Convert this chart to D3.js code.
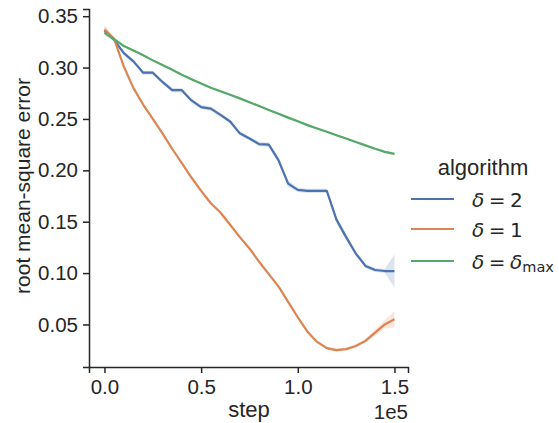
<!DOCTYPE html>
<html>
<head>
<meta charset="utf-8">
<script src="https://cdn.jsdelivr.net/npm/d3@7"></script>
<style>
  body { margin: 0; background: #fff; }
  svg { display: block; }
  .tick text { font-family: "Liberation Sans", Arial, sans-serif; font-size: 20.5px; fill: #262626; }
  .tick line { stroke: #262626; stroke-width: 1.5px; }
  .domain { stroke: #262626; stroke-width: 1.5px; }
</style>
</head>
<body>
<div id="chart"></div>
<script>
const FRAME_WIDTH = 559;
const FRAME_HEIGHT = 423;

// steps (every 5000 up to 150000)
const STEPS = d3.range(0, 150001, 5000);

// series names and colors
const ALGORITHMS = ["d2", "d1", "dmax"];
const COLORS = {d2: "#4c72b0", d1: "#dd8452", dmax: "#55a868"};

// mean rmse
const RMSE_D2 = [0.336, 0.327, 0.314, 0.306, 0.295, 0.295, 0.286, 0.278, 0.278, 0.268,
                 0.2615, 0.260, 0.254, 0.2475, 0.236, 0.231, 0.2255, 0.225, 0.210, 0.187,
                 0.181, 0.180, 0.180, 0.180, 0.152, 0.135, 0.119, 0.107, 0.103, 0.102, 0.102];
const RMSE_D1 = [0.337, 0.328, 0.301, 0.280, 0.264, 0.250, 0.236, 0.221, 0.207, 0.193,
                 0.180, 0.168, 0.159, 0.147, 0.135, 0.124, 0.111, 0.099, 0.087, 0.072,
                 0.057, 0.043, 0.033, 0.027, 0.025, 0.026, 0.029, 0.034, 0.042, 0.050, 0.055];
const RMSE_DMAX = [0.334, 0.3276, 0.321, 0.3165, 0.312, 0.307, 0.3026, 0.2978, 0.293, 0.2887,
                   0.2845, 0.2804, 0.2769, 0.2735, 0.270, 0.2663, 0.2625, 0.2588, 0.255, 0.2513,
                   0.2477, 0.244, 0.2407, 0.2375, 0.2342, 0.2309, 0.2276, 0.2243, 0.221, 0.218, 0.216];

// half width of the confidence band
const ERR_D2 = [0.004, 0.002, 0.002, 0.002, 0.002, 0.002, 0.002, 0.002, 0.002, 0.002,
                0.002, 0.002, 0.002, 0.002, 0.002, 0.002, 0.002, 0.002, 0.003, 0.003,
                0.002, 0.002, 0.002, 0.002, 0.003, 0.003, 0.002, 0.002, 0.002, 0.002, 0.016];
const ERR_D1 = [0.004, 0.0015, 0.0015, 0.0015, 0.0015, 0.0015, 0.0015, 0.0015, 0.0015, 0.0015,
                0.0015, 0.0015, 0.0015, 0.0015, 0.0015, 0.0015, 0.0015, 0.0015, 0.0015, 0.0015,
                0.0015, 0.0015, 0.0015, 0.0015, 0.0015, 0.0015, 0.0015, 0.002, 0.003, 0.004, 0.008];
const ERR_DMAX = [0.003, 0.001, 0.001, 0.001, 0.001, 0.001, 0.001, 0.001, 0.001, 0.001,
                  0.001, 0.001, 0.001, 0.001, 0.001, 0.001, 0.001, 0.001, 0.001, 0.001,
                  0.001, 0.001, 0.001, 0.001, 0.001, 0.001, 0.001, 0.001, 0.001, 0.001, 0.0015];

const X_TICKS = [0, 50000, 100000, 150000];
const Y_TICKS = [0.05, 0.10, 0.15, 0.20, 0.25, 0.30, 0.35];

const MEANS = {d2: RMSE_D2, d1: RMSE_D1, dmax: RMSE_DMAX};
const ERRS = {d2: ERR_D2, d1: ERR_D1, dmax: ERR_DMAX};

const SVG = d3.select("#chart")
              .append("svg")
                .attr("width", FRAME_WIDTH)
                .attr("height", FRAME_HEIGHT);

const X_SCALE = d3.scaleLinear()
                  .domain([-8000, 157000])
                  .range([89, 408]);

const Y_SCALE = d3.scaleLinear()
                  .domain([0.0086, 0.357])
                  .range([367, 9]);

// bands first, then lines
ALGORITHMS.forEach((alg) => {
  const pts = STEPS.map((s, i) => ({x: s, y: MEANS[alg][i], e: ERRS[alg][i]}));

  SVG.append("path")
     .datum(pts)
     .attr("fill", COLORS[alg])
     .attr("fill-opacity", 0.2)
     .attr("d", d3.area()
                  .x((d) => X_SCALE(d.x))
                  .y0((d) => Y_SCALE(d.y - d.e))
                  .y1((d) => Y_SCALE(d.y + d.e)));
});

ALGORITHMS.forEach((alg) => {
  const pts = STEPS.map((s, i) => ({x: s, y: MEANS[alg][i]}));

  SVG.append("path")
     .datum(pts)
     .attr("fill", "none")
     .attr("stroke", COLORS[alg])
     .attr("stroke-width", 2.2)
     .attr("stroke-linejoin", "round")
     .attr("d", d3.line()
                  .x((d) => X_SCALE(d.x))
                  .y((d) => Y_SCALE(d.y)));
});

// axes
SVG.append("g")
   .attr("transform", "translate(0,367)")
   .call(d3.axisBottom(X_SCALE)
           .tickValues(X_TICKS)
           .tickFormat((d) => (d / 1e5).toFixed(1))
           .tickSizeOuter(0)
           .tickSize(6)
           .tickPadding(6));

SVG.append("g")
   .attr("transform", "translate(89,0)")
   .call(d3.axisLeft(Y_SCALE)
           .tickValues(Y_TICKS)
           .tickFormat(d3.format(".2f"))
           .tickSizeOuter(0)
           .tickSize(6)
           .tickPadding(5));

const LABEL_FONT = '"Liberation Sans", Arial, sans-serif';

SVG.append("text")
   .attr("x", 249)
   .attr("y", 417)
   .attr("text-anchor", "middle")
   .attr("font-family", LABEL_FONT)
   .attr("font-size", "22px")
   .attr("fill", "#262626")
   .text("step");

SVG.append("text")
   .attr("x", 408)
   .attr("y", 419)
   .attr("text-anchor", "end")
   .attr("font-family", LABEL_FONT)
   .attr("font-size", "20.5px")
   .attr("fill", "#262626")
   .text("1e5");

SVG.append("text")
   .attr("transform", "translate(30,186) rotate(-90)")
   .attr("text-anchor", "middle")
   .attr("font-family", LABEL_FONT)
   .attr("font-size", "21px")
   .attr("fill", "#262626")
   .text("root mean-square error");

// legend
const LEGEND = SVG.append("g");

LEGEND.append("text")
      .attr("x", 483)
      .attr("y", 175)
      .attr("text-anchor", "middle")
      .attr("font-family", LABEL_FONT)
      .attr("font-size", "22px")
      .attr("fill", "#262626")
      .text("algorithm");

const LEGEND_Y = [199, 229, 261];
const LEGEND_RHS = {d2: "2", d1: "1", dmax: null};

ALGORITHMS.forEach((alg, i) => {
  const y = LEGEND_Y[i];
  LEGEND.append("line")
        .attr("x1", 411).attr("x2", 454)
        .attr("y1", y).attr("y2", y)
        .attr("stroke", COLORS[alg])
        .attr("stroke-width", 2.2);

  const t = LEGEND.append("text")
                  .attr("x", 472)
                  .attr("y", y + 8)
                  .attr("font-family", '"DejaVu Sans", sans-serif')
                  .attr("font-size", "20px")
                  .attr("fill", "#262626");
  t.append("tspan").attr("font-style", "italic").text("δ");
  t.append("tspan").attr("dx", 4.5).text("=");
  if (LEGEND_RHS[alg] !== null) {
    t.append("tspan").attr("dx", 4.5).text(LEGEND_RHS[alg]);
  } else {
    t.append("tspan").attr("dx", 4.5).attr("font-style", "italic").text("δ");
    t.append("tspan").attr("font-size", "14.5px").attr("dy", 3).text("max");
  }
});
</script>
</body>
</html>
